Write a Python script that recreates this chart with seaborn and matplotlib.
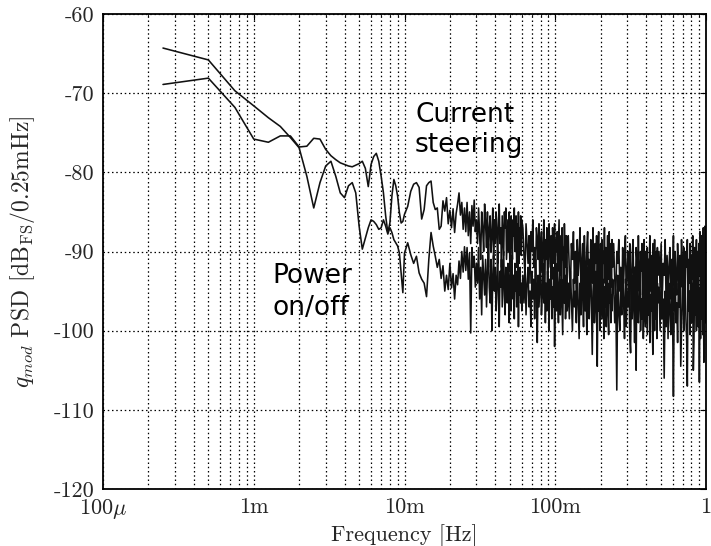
import numpy as np
import pandas as pd
import matplotlib
matplotlib.use("Agg")
import matplotlib.pyplot as plt
import seaborn as sns
from matplotlib.ticker import FixedLocator, FixedFormatter, LogLocator, NullFormatter

# ---------------- data ----------------
bin_width_hz = 0.25e-3
bins = np.concatenate([
    np.arange(1, 41),
    np.arange(42, 119, 2),
    np.arange(120, 241, 2),
    np.arange(244, 481, 4),
    np.arange(488, 961, 8),
    np.arange(976, 1921, 16),
    np.arange(1952, 4001, 32),
])

steering_low = [-68.9, -68.1, -71.8, -75.8, -76.2, -75.4, -75.4, -76.8, -76.7, -75.7,
                -75.8, -77.1, -77.9, -78.4, -78.8, -79.0, -79.2, -79.3, -79.1, -78.9,
                -78.6, -79.5, -81.8, -79.0, -78.0, -77.6, -78.6, -80.5, -82.6, -85.5,
                -87.6, -86.4, -83.0, -80.9, -81.7, -83.0, -85.1, -86.4, -86.2, -85.3]
steering_mid = [-84.3, -82.4, -81.5, -81.3, -81.9, -85.9, -84.7, -81.7, -81.3, -81.1,
                -83.8, -84.7, -84.5, -87.2, -86.8, -83.6, -84.9, -83.2, -86.5, -84.8,
                -87.0, -84.6, -87.6, -85.2, -84.0, -82.6, -85.4, -83.8, -87.2, -84.5,
                -87.5, -83.8, -88.0, -85.0, -89.0, -84.2, -86.8, -83.5, -87.5]
steering_a = [-86, -89, -84.5, -88, -91, -85, -87, -90, -84, -86.5,
              -89.5, -85, -92, -87, -85.5, -90, -88, -84.5, -91, -86,
              -89, -85, -87.5, -91.5, -86, -84, -89, -87, -92, -85.5,
              -88, -90.5, -85, -87, -84.5, -91, -88.5, -86, -90, -85,
              -92.5, -87, -85.5, -89, -91, -86, -88, -84.5, -90, -87.5,
              -85.5, -92, -86.5, -89, -85, -91.5, -87, -88.5, -85.5, -90.5,
              -86]
steering_b = [-87, -90.5, -93, -86.5, -89, -91.5, -88, -94, -87.5, -90,
              -86, -92, -89.5, -93.5, -87, -88.5, -91, -86.5, -94.5, -89,
              -87.5, -92.5, -90, -86, -93, -88.5, -91, -87, -95, -89.5,
              -86.5, -90.5, -92, -88, -93.5, -87, -89.5, -91.5, -86.5, -94,
              -88.5, -90, -87.5, -92.5, -89, -86, -93, -90.5, -88, -95,
              -87, -91, -89.5, -93.5, -86.5, -90, -92, -88, -94.5, -89]
steering_c = [-88, -92.5, -95, -89, -91, -87.5, -94, -90, -96, -88.5,
              -93, -90.5, -87, -95.5, -91.5, -89, -94.5, -88, -92, -96.5,
              -89.5, -87.5, -93.5, -91, -95, -88.5, -90, -94, -87, -92.5,
              -96, -89, -91.5, -88, -94.5, -90.5, -87.5, -95.5, -92, -89,
              -93, -88.5, -96.5, -90, -91.5, -87, -94, -89.5, -92.5, -95,
              -88, -91, -93.5, -87.5, -96, -90, -89, -94.5, -88.5, -92]
steering_d = [-89, -93.5, -96, -90, -91.5, -88.5, -95, -92, -97, -89.5,
              -94, -90.5, -88, -96.5, -92.5, -90, -95.5, -89, -93, -97.5,
              -90.5, -88.5, -94.5, -92, -96, -89.5, -91, -95, -88, -93.5,
              -97, -90, -92.5, -89, -95.5, -91.5, -88.5, -96.5, -93, -90,
              -94, -89.5, -97.5, -91, -92.5, -88, -95, -90.5, -93.5, -96,
              -89, -92, -94.5, -88.5, -97, -91, -90, -95.5, -89.5, -93]
steering_e = [-90, -94.5, -89, -96.5, -91.5, -93, -88.5, -97, -90.5, -95,
              -92, -89.5, -96, -91, -94, -88, -97.5, -90, -93.5, -95.5,
              -89, -92.5, -96.5, -90.5, -94.5, -88.5, -91.5, -97, -89.5, -93,
              -95.5, -90, -92, -88.5, -96, -91, -94, -89, -97.5, -90.5,
              -93.5, -88, -95, -91.5, -89.5, -96.5, -92, -88.5, -94.5, -90,
              -97, -89, -93, -87.5, -95.5, -91, -88, -96, -90.5, -87,
              -94, -89.5, -86.8, -95, -88.5]

power_low = [-64.3, -65.8, -69.7, -71.6, -73.1, -74.2, -75.6, -76.9, -80.5, -84.5,
             -81.3, -79.2, -78.6, -80.5, -82.6, -83.2, -81.7, -81.3, -82.6, -86.8,
             -89.7, -88.3, -87.0, -86.0, -86.2, -86.6, -87.2, -87.0, -86.0, -86.8,
             -87.8, -87.0, -87.6, -88.5, -88.9, -89.3, -90.2, -92.7, -95.2, -90.2]
power_mid = [-88.9, -90.4, -91.5, -90.6, -92.7, -93.5, -94.0, -95.7, -91.0, -87.6,
             -89.3, -90.6, -92.0, -91.0, -93.4, -91.8, -95.0, -93.0, -94.8, -91.5,
             -94.6, -92.8, -96.0, -93.0, -94.2, -91.2, -93.4, -90.0, -92.6, -89.4,
             -92.4, -89.5, -93.5, -90.2, -100.3, -89.5, -92.0, -90.6, -94.5]
power_a = [-91.5, -94, -89.5, -96, -92, -98, -90.5, -93, -95.5, -91,
           -97, -92.5, -89, -94.5, -96.5, -91, -100, -93, -90.5, -95,
           -92, -97.5, -94, -90, -96, -99.5, -92.5, -94.5, -91, -97,
           -93.5, -90, -95.5, -98, -92, -94, -96.5, -91.5, -93, -99,
           -95, -92, -97.5, -90.5, -94, -96, -93, -98.5, -91.5, -95,
           -92.5, -97, -94.5, -91, -99.5, -93, -95.5, -92, -96.5, -94,
           -97.5]
power_b = [-93, -96.5, -91.5, -98, -94, -92, -97, -95, -99.5, -92.5,
           -96, -93.5, -98.5, -91, -95, -101.5, -93, -97, -94.5, -92,
           -98, -95.5, -91.5, -96.5, -93, -99, -94, -97.5, -92.5, -95,
           -100, -93.5, -96, -91, -98.5, -94.5, -97, -92, -102, -95.5,
           -93, -97.5, -91.5, -96, -99, -94, -92.5, -98, -95, -93.5,
           -97, -100.5, -94, -91.5, -96.5, -93, -98.5, -95, -92, -97.5]
power_c = [-94, -98.5, -92.5, -96, -100, -93.5, -97, -95, -99, -92,
           -96.5, -101, -94, -98, -92.5, -95.5, -99.5, -93, -97.5, -94.5,
           -100.5, -92, -96, -98.5, -94, -91.5, -97, -103, -95, -93,
           -99, -96.5, -92.5, -98, -104.5, -94, -97.5, -93, -100, -95.5,
           -92, -98.5, -96, -93.5, -101, -94.5, -97, -92.5, -99.5, -95,
           -93, -98, -100.5, -94, -96.5, -92, -99, -95.5, -97.5, -93.5]
power_d = [-94, -99, -95.5, -107.5, -93, -97.5, -100, -94.5, -98, -92.5,
           -96, -101, -93.5, -99.5, -95, -97, -92.5, -100.5, -102.8, -94,
           -98.5, -93, -96.5, -101.5, -94.5, -105, -92, -97.5, -99, -95,
           -93.5, -100, -96, -98.5, -92.5, -101, -94.5, -97, -99.5, -93,
           -96.5, -100.5, -94, -98, -92, -101.5, -95.5, -97.5, -93.5, -99,
           -103, -94.5, -97, -100, -93, -98.5, -95, -101, -94, -96.5]
power_e = [-94.5, -100, -93, -98.5, -96, -106, -95, -99.5, -92.5, -101,
           -94, -97.5, -100.5, -93.5, -98, -108.3, -95.5, -92, -99, -96.5,
           -101.5, -94, -97, -93, -104.5, -99.5, -95, -92.5, -100, -96,
           -94.5, -98.5, -101, -107, -93.5, -97.5, -95, -100.5, -92.5, -99,
           -96.5, -94, -105, -101.5, -93, -98, -95.5, -100, -92, -97,
           -99.5, -94.5, -106.5, -96, -101, -93.5, -98.5, -95, -100.5, -92.5,
           -104, -97.5, -94, -99, -96]

steering_db = (steering_low + steering_mid + steering_a + steering_b
               + steering_c + steering_d + steering_e)
power_db = power_low + power_mid + power_a + power_b + power_c + power_d + power_e

x_ticks = [1e-4, 1e-3, 1e-2, 1e-1, 1.0]
x_tick_labels = [r"100$\mu$", "1m", "10m", "100m", "1"]
y_ticks = [-120, -110, -100, -90, -80, -70, -60]
y_tick_labels = ["-120", "-110", "-100", "-90", "-80", "-70", "-60"]

freq = bins * bin_width_hz
df = pd.DataFrame({
    "freq": np.concatenate([freq, freq]),
    "psd": steering_db + power_db,
    "series": ["Current steering"] * len(freq) + ["Power on/off"] * len(freq),
})

# ---------------- style ----------------
sns.set_theme(style="white")
plt.rcParams["mathtext.fontset"] = "cm"
plt.rcParams["font.family"] = ["cmr10", "DejaVu Sans"]
plt.rcParams["axes.unicode_minus"] = False

fig, ax = plt.subplots(figsize=(7.11, 5.46), dpi=100)
fig.subplots_adjust(left=103 / 711, right=706 / 711, bottom=1 - 489 / 546, top=1 - 14 / 546)

sns.lineplot(data=df, x="freq", y="psd", hue="series",
             palette=["#111111", "#111111"], estimator=None, sort=False,
             linewidth=1.15, legend=False, ax=ax)

ax.set_xscale("log")
ax.set_xlim(1e-4, 1.0)
ax.set_ylim(-120, -60)

ax.xaxis.set_major_locator(FixedLocator(x_ticks))
ax.xaxis.set_major_formatter(FixedFormatter(x_tick_labels))
ax.xaxis.set_minor_locator(LogLocator(base=10, subs=np.arange(2, 10), numticks=20))
ax.xaxis.set_minor_formatter(NullFormatter())
ax.yaxis.set_major_locator(FixedLocator(y_ticks))
ax.yaxis.set_major_formatter(FixedFormatter(y_tick_labels))

grid_kw = dict(color="black", linestyle=(0, (1.2, 2.2)), linewidth=0.9)
ax.grid(which="both", axis="x", **grid_kw)
ax.grid(which="major", axis="y", **grid_kw)

ax.tick_params(which="both", direction="in", top=True, right=True,
               color="black", labelsize=16, pad=6)
ax.tick_params(which="major", length=4, width=0.8)
ax.tick_params(which="minor", length=2, width=0.6)
for s in ax.spines.values():
    s.set_color("black")
    s.set_linewidth(1.3)

ax.set_xlabel("Frequency [Hz]", fontsize=16, labelpad=2)
ax.set_ylabel(r"$q_{mod}$ PSD [dB$_{\rm FS}$/0.25mHz]", fontsize=17, labelpad=12)

txt_kw = dict(fontsize=19, family=["DejaVu Sans"], color="black", va="baseline", ha="left")
fig.text(415 / 711, 1 - 122 / 546, "Current", **txt_kw)
fig.text(415 / 711, 1 - 152 / 546, "steering", **txt_kw)
fig.text(272 / 711, 1 - 283 / 546, "Power", **txt_kw)
fig.text(272 / 711, 1 - 315 / 546, "on/off", **txt_kw)

fig.savefig("out.png", dpi=100)
